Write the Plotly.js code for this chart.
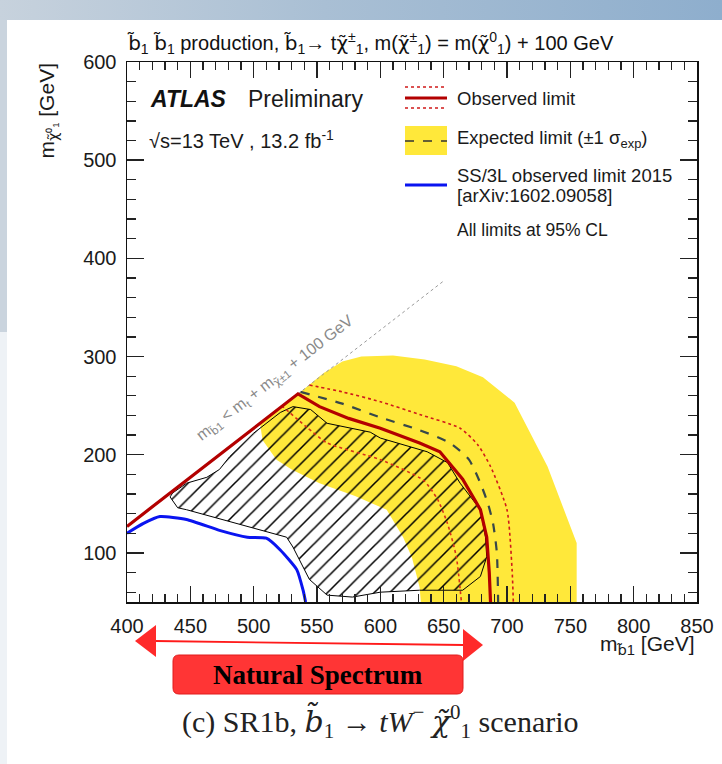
<!DOCTYPE html>
<html>
<head>
<meta charset="utf-8">
<script src="https://cdn.plot.ly/plotly-3.0.1.min.js"></script>
<style>
  html, body { margin:0; padding:0; background:#ffffff; }
  #wrap { position:relative; width:722px; height:764px; background:#ffffff; overflow:hidden; }
  #topbar { position:absolute; left:0; top:0; width:722px; height:20px;
            background:linear-gradient(to right, #c7d2dd 0%, #a9bfd4 45%, #8eaecd 100%); }
  #leftstrip1 { position:absolute; left:0; top:20px; width:7px; height:312px; background:#cad4de; }
  #leftstrip2 { position:absolute; left:0; top:332px; width:7px; height:432px; background:#eef2f6; }
  #chart { position:absolute; left:0; top:0; width:722px; height:764px; }
</style>
</head>
<body>
<div id="wrap">
  <div id="topbar"></div>
  <div id="leftstrip1"></div>
  <div id="leftstrip2"></div>
  <div id="chart"></div>
</div>
<script>
// ---------------- data (GeV) ----------------
// Expected limit +-1 sigma band (closed contour)
const bandX = [505, 537, 555, 570, 585, 610, 635, 660, 681, 706, 732, 755, 755, 632, 631, 625, 618, 605, 580, 552, 530, 518, 507, 505];
const bandY = [232, 264, 283, 295, 300, 301, 297, 290, 279, 253, 188, 110, 50, 50, 65, 95, 116, 144, 158, 171, 185, 195, 215, 232];

// Hatched contour
const hatchX = [434, 440, 447, 487, 526, 531, 544, 558, 578, 600, 631, 665, 679, 684, 683, 679, 663, 653, 637, 600, 592, 558, 545, 531, 521, 500, 481, 473, 463, 447, 436, 434];
const hatchY = [157, 146, 144, 130, 116, 106, 73, 57, 55, 60, 62, 62, 76, 96, 116, 144, 171, 192, 203, 217, 223, 232, 246, 249, 243, 222, 198, 185, 177, 171, 161, 157];

// Kinematic boundary (dotted grey continuation)
const diagX = [535, 650];
const diagY = [262, 377];

// Observed limit
const obsX = [400, 535, 552, 575, 600, 631, 647, 665, 679, 684, 686, 687];
const obsY = [127, 262, 249, 237, 227, 212, 203, 175, 144, 116, 80, 50];

// Observed +1 sigma (dotted)
const obsUpX = [544, 570, 600, 631, 663, 677, 687, 700, 704, 705];
const obsUpY = [271, 264, 254, 241, 227, 210, 188, 144, 83, 50];

// Observed -1 sigma (dotted)
const obsDnX = [522, 542, 558, 600, 634, 645, 653, 660, 664];
const obsDnY = [250, 228, 212, 195, 174, 155, 130, 96, 50];

// Expected limit (dashed)
const expX = [537, 570, 600, 631, 655, 670, 679, 685, 689, 692, 693];
const expY = [264, 252, 238, 225, 212, 195, 171, 150, 130, 100, 50];

// SS/3L observed limit 2015
const ssX = [400, 413, 426, 447, 473, 495, 510, 521, 534, 539, 541];
const ssY = [120, 130, 137, 134, 123, 116, 115, 103, 83, 62, 50];

// axis ranges
const xRange = [400, 850];
const yRange = [50, 600];

// ---------------- helpers: pixel -> paper (layout placement only) ----------------
const L = 127, R = 697, T = 62, B = 602;
const px = X => (X - L) / (R - L);
const py = Y => (B - Y) / (B - T);

const SANS = 'Liberation Sans, Arial, Helvetica, sans-serif';
const SERIF = 'Liberation Serif, Times New Roman, serif';
// characters with a combining tilde, drawn in a font that positions the mark
const BT = '<span style="font-family:\'DejaVu Sans\'">b̃</span>';
const CT = '<span style="font-family:\'DejaVu Sans\'">χ̃</span>';
const BTs = '<span style="font-family:\'DejaVu Serif\'">b̃</span>';
const CTs = '<span style="font-family:\'DejaVu Serif\'">χ̃</span>';

const traces = [
  { x: bandX, y: bandY, type: 'scatter', mode: 'lines', fill: 'toself',
    fillcolor: '#ffe83a', line: { width: 0, color: '#ffe83a' }, hoverinfo: 'skip' },
  { x: hatchX, y: hatchY, type: 'scatter', mode: 'lines', fill: 'toself',
    fillcolor: 'rgba(0,0,0,0)',
    fillpattern: { shape: '/', fgcolor: '#000000', bgcolor: 'rgba(0,0,0,0)', size: 11, solidity: 0.14 },
    line: { width: 1, color: '#000000' }, hoverinfo: 'skip' },
  { x: diagX, y: diagY, type: 'scatter', mode: 'lines',
    line: { width: 1, color: '#9a9a9a', dash: 'dot' }, hoverinfo: 'skip' },
  { x: obsDnX, y: obsDnY, type: 'scatter', mode: 'lines',
    line: { width: 1.6, color: '#d8301a', dash: 'dot', shape: 'spline', smoothing: 0.6 }, hoverinfo: 'skip' },
  { x: obsUpX, y: obsUpY, type: 'scatter', mode: 'lines',
    line: { width: 1.6, color: '#d01a1a', dash: 'dot', shape: 'spline', smoothing: 0.6 }, hoverinfo: 'skip' },
  { x: expX, y: expY, type: 'scatter', mode: 'lines',
    line: { width: 2.2, color: '#37474a', dash: 'dash', shape: 'spline', smoothing: 0.6 }, hoverinfo: 'skip' },
  { x: obsX, y: obsY, type: 'scatter', mode: 'lines',
    line: { width: 3.2, color: '#b30000' }, hoverinfo: 'skip' },
  { x: ssX, y: ssY, type: 'scatter', mode: 'lines',
    line: { width: 3, color: '#0a14f0', shape: 'spline', smoothing: 0.5 }, hoverinfo: 'skip' }
];

function rectPath(x0, y0, x1, y1, r) {
  const X0 = px(x0), X1 = px(x1), Y0 = py(y0), Y1 = py(y1);
  const rx = r / (R - L), ry = r / (B - T);
  return `M ${X0 + rx} ${Y0} L ${X1 - rx} ${Y0} Q ${X1} ${Y0} ${X1} ${Y0 - ry} ` +
         `L ${X1} ${Y1 + ry} Q ${X1} ${Y1} ${X1 - rx} ${Y1} L ${X0 + rx} ${Y1} ` +
         `Q ${X0} ${Y1} ${X0} ${Y1 + ry} L ${X0} ${Y0 - ry} Q ${X0} ${Y0} ${X0 + rx} ${Y0} Z`;
}
function triPath(pts) {
  return 'M ' + pts.map(p => `${px(p[0])} ${py(p[1])}`).join(' L ') + ' Z';
}

const shapes = [
  // legend: observed
  { type: 'line', xref: 'paper', yref: 'paper', x0: px(405), x1: px(447), y0: py(87), y1: py(87),
    line: { color: '#d01a1a', width: 1.5, dash: 'dot' } },
  { type: 'line', xref: 'paper', yref: 'paper', x0: px(405), x1: px(447), y0: py(98), y1: py(98),
    line: { color: '#b30000', width: 3.2 } },
  { type: 'line', xref: 'paper', yref: 'paper', x0: px(405), x1: px(447), y0: py(108), y1: py(108),
    line: { color: '#d01a1a', width: 1.5, dash: 'dot' } },
  // legend: expected
  { type: 'rect', xref: 'paper', yref: 'paper', x0: px(405), x1: px(447), y0: py(126), y1: py(155),
    fillcolor: '#ffe83a', line: { width: 0 } },
  { type: 'line', xref: 'paper', yref: 'paper', x0: px(405), x1: px(447), y0: py(141), y1: py(141),
    line: { color: '#333333', width: 1.6, dash: 'dash' } },
  // legend: SS/3L
  { type: 'line', xref: 'paper', yref: 'paper', x0: px(405), x1: px(447), y0: py(185), y1: py(185),
    line: { color: '#0a14f0', width: 3 } },
  // Natural spectrum arrow
  { type: 'line', xref: 'paper', yref: 'paper', x0: px(155), x1: px(464), y0: py(641), y1: py(645),
    line: { color: '#ff1a1a', width: 1.8 } },
  { type: 'path', xref: 'paper', yref: 'paper', path: triPath([[135, 641], [156, 625], [156, 657]]),
    fillcolor: '#ff2a2a', line: { width: 0 } },
  { type: 'path', xref: 'paper', yref: 'paper', path: triPath([[483, 645], [463, 629], [463, 661]]),
    fillcolor: '#ff2a2a', line: { width: 0 } },
  // Natural spectrum box
  { type: 'path', xref: 'paper', yref: 'paper', path: rectPath(173, 655, 463, 694, 6),
    fillcolor: '#ff3535', line: { color: '#e01c1c', width: 1 } }
];

const ann = (X, Y, text, opts) => Object.assign({
  xref: 'paper', yref: 'paper', x: px(X), y: py(Y), text: text, showarrow: false,
  xanchor: 'left', yanchor: 'middle', font: { family: SANS, size: 18.5, color: '#1a1a1a' }
}, opts || {});

const annotations = [
  ann(148, 99, '<b><i>ATLAS</i></b>', { font: { family: SANS, size: 23, color: '#111' } }),
  ann(246, 99, 'Preliminary', { font: { family: SANS, size: 23, color: '#1a1a1a' } }),
  ann(147, 139, '√s=13 TeV , 13.2 fb<sup>-1</sup>', { font: { family: SANS, size: 20, color: '#1a1a1a' } }),
  ann(455, 98, 'Observed limit'),
  ann(455, 139, 'Expected limit (±1 σ<sub>exp</sub>)'),
  ann(455, 175, 'SS/3L observed limit 2015'),
  ann(455, 195, '[arXiv:1602.09058]'),
  ann(455, 230, 'All limits at 95% CL', { font: { family: SANS, size: 17.5, color: '#1a1a1a' } }),
  // kinematic label along diagonal
  { xref: 'x', yref: 'y', x: 517, y: 277, showarrow: false, textangle: -37.8,
    text: 'm<sub>' + BT + '1</sub> &lt; m<sub>t</sub> + m<sub>' + CT + '±1</sub> + 100 GeV',
    font: { family: SANS, size: 16, color: '#8a8a8a' }, xanchor: 'center', yanchor: 'middle' },
  // axis titles
  ann(47, 62, 'm<sub>' + CT + '⁰₁</sub> [GeV]', { textangle: -90, xanchor: 'center', yanchor: 'top',
    font: { family: SANS, size: 21, color: '#1a1a1a' } }),
  ann(697, 645, 'm<sub>' + BT + '1</sub> [GeV]', { xanchor: 'right', font: { family: SANS, size: 21, color: '#1a1a1a' } }),
  // natural spectrum text
  ann(318, 675, '<b>Natural Spectrum</b>', { xanchor: 'center',
    font: { family: SERIF, size: 27, color: '#000000' } }),
  // caption
  ann(380, 721, '(c) SR1b, <i>' + BTs + '</i><sub>1</sub> → <i>tW</i><sup>−</sup> <i>' + CTs + '</i><sup>0</sup><sub>1</sub> scenario',
    { xanchor: 'center', font: { family: SERIF, size: 30, color: '#222222' } })
];

const axisCommon = {
  ticks: 'inside', mirror: 'allticks', showline: true, linecolor: '#111111', linewidth: 1.5,
  tickcolor: '#222222', tickwidth: 1.4, showgrid: false, zeroline: false,
  tickfont: { family: SANS, size: 20, color: '#1a1a1a' }, ticklabelstandoff: 5
};

const layout = {
  width: 722, height: 764,
  margin: { l: L, r: 722 - R, t: T, b: 764 - B, pad: 0 },
  paper_bgcolor: 'rgba(0,0,0,0)', plot_bgcolor: 'rgba(0,0,0,0)',
  showlegend: false,
  title: {
    text: BT + '<sub>1</sub> ' + BT + '<sub>1</sub> production, ' + BT + '<sub>1</sub>→ t' + CT +
          '<sup>±</sup><sub>1</sub>, m(' + CT + '<sup>±</sup><sub>1</sub>) = m(' + CT +
          '<sup>0</sup><sub>1</sub>) + 100 GeV',
    font: { family: SANS, size: 20, color: '#111111' },
    xref: 'paper', x: 0.002, xanchor: 'left',
    yref: 'container', y: 1 - 43 / 764, yanchor: 'middle'
  },
  xaxis: Object.assign({}, axisCommon, {
    range: xRange, tick0: 400, dtick: 50, ticklen: 16,
    minor: { dtick: 10, ticklen: 8, tickwidth: 1.2, tickcolor: '#222222', ticks: 'inside' }
  }),
  yaxis: Object.assign({}, axisCommon, {
    range: yRange, tick0: 0, dtick: 100, ticklen: 17,
    minor: { dtick: 20, ticklen: 9, tickwidth: 1.2, tickcolor: '#222222', ticks: 'inside' }
  }),
  shapes: shapes,
  annotations: annotations
};

Plotly.newPlot('chart', traces, layout, { displayModeBar: false, staticPlot: true });
</script>
</body>
</html>
